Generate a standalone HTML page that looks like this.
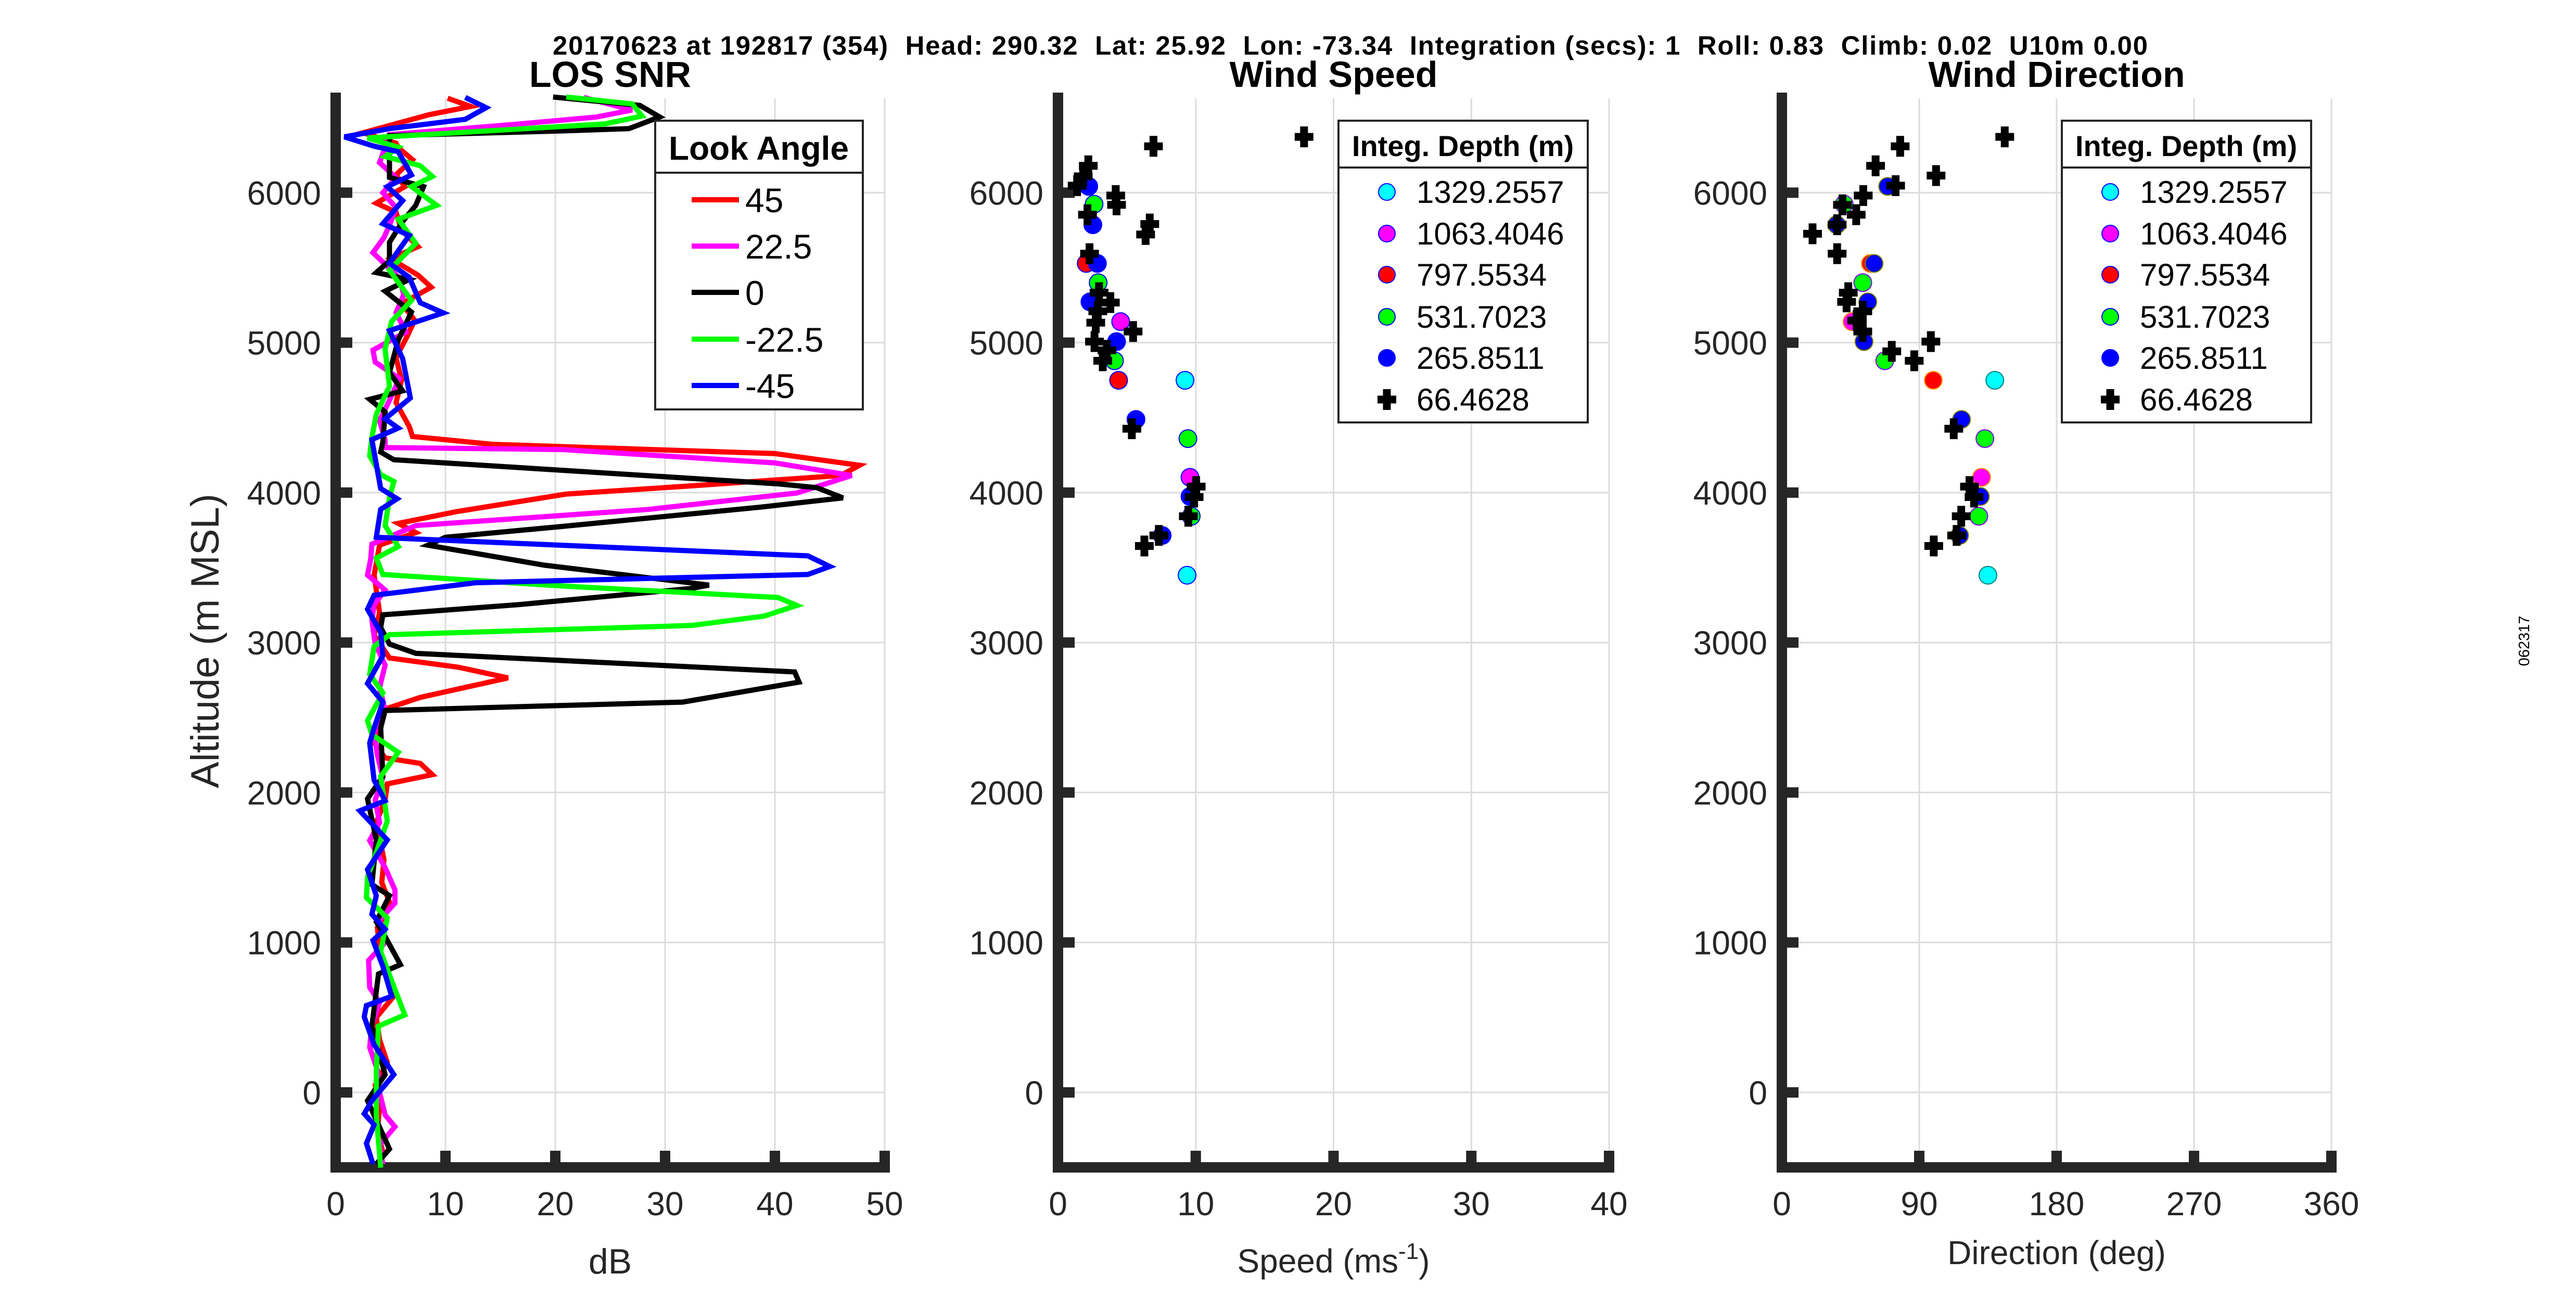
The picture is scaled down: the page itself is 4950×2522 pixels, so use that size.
<!DOCTYPE html>
<html><head><meta charset="utf-8"><style>
html,body{margin:0;padding:0;background:#fff;}
svg{display:block;font-family:"Liberation Sans",Arial,sans-serif;}
</style></head><body>
<svg id="fig" width="4950" height="2522" viewBox="0 0 4950 2522" xmlns="http://www.w3.org/2000/svg">
<rect x="0" y="0" width="4950" height="2522" fill="#fff"/>
<text x="1062" y="105" textLength="3065" lengthAdjust="spacing" font-size="51" font-weight="bold" style="white-space:pre" xml:space="preserve">20170623 at 192817 (354)  Head: 290.32  Lat: 25.92  Lon: -73.34  Integration (secs): 1  Roll: 0.83  Climb: 0.02  U10m 0.00</text>
<text transform="translate(4860,1232) rotate(-90)" text-anchor="middle" font-size="29">062317</text>
<g id="root"></g>
</svg>
<script>
// ---------- Chart data ----------
const snrTicks = [0,10,20,30,40,50];
const speedTicks = [0,10,20,30,40];
const dirTicks = [0,90,180,270,360];
const altTicks = [0,1000,2000,3000,4000,5000,6000];
const lookAngles = ['45','22.5','0','-22.5','-45'];
const depthLabels = ['1329.2557','1063.4046','797.5534','531.7023','265.8511','66.4628'];

const snr45Alt = [6630,6575,6520,6460,6400,6330,6300,6220,6120,6040,5930,5870,5750,5640,5560,5450,5370,5260,5150,5040,4900,4750,4600,4440,4374,4322,4260,4182,4114,4043,3990,3873,3795,3733,3650,3450,3200,3050,2897,2835,2764,2634,2556,2450,2330,2231,2194,2119,2057,1950,1800,1700,1550,1400,1250,1100,950,800,650,500,350,200,50,-100,-250,-400,-480];
const snr45dB = [10.2,12.3,8.5,5.5,2.5,5.5,5.7,7,5.5,6.3,3.7,5.5,6,7.5,5,7.5,8.7,6,7.2,6.5,5.5,6,5.5,6.7,7,14.3,40,47.7,46,32,21,11,5.7,7.3,4,3.5,4,3.5,4.9,11.2,15.7,7.7,4.5,4,3.5,4.5,7.7,8.8,4.7,4.5,3.7,4,4.4,4.2,5,3.8,4,4.5,5.4,3.7,4,4.7,3.6,4,3.8,4.3,4];

const snr22Alt = [6635,6551,6505,6458,6387,6300,6200,6100,6000,5900,5800,5700,5600,5530,5430,5320,5200,5070,4950,4870,4760,4600,4480,4350,4300,4287,4198,4114,3997,3888,3780,3656,3560,3450,3350,3250,3150,2990,2850,2700,2550,2400,2250,2100,1950,1800,1680,1500,1350,1262,1150,1000,880,700,600,450,300,150,0,-150,-229,-350,-480];
const snr22dB = [22.6,27,23.8,16.7,4.9,4.5,4,5.5,4.3,5.5,5,4.4,3.4,4.4,5.8,6.2,5.5,6.4,3.4,3.6,5.8,4.8,4,4.5,4.5,20.6,40,47,42,28.5,7.3,3.3,3.2,2.9,4.5,3.5,3.3,3.6,4.5,4,4.5,3.5,3.8,4.3,3.6,4,3.1,4.5,5.4,5.4,4,4.5,3,3.1,4,3.3,3.1,3.8,4,4.5,5.4,4,4.3];

const snr0Alt = [6638,6582,6505,6427,6412,6380,6195,6102,6040,5916,5808,5669,5545,5467,5421,5343,5204,5018,4801,4678,4622,4538,4337,4270,4219,4058,4033,3965,3903,3774,3702,3649,3516,3383,3361,3253,3185,3100,2990,2928,2804,2736,2603,2547,2430,2107,1958,1684,1386,1312,1138,1039,852,790,442,119,-55,-378,-477];
const snr0dB = [19.8,27.7,29.5,26.7,20.6,4.9,4.9,4.9,8,7.3,6.1,4.9,4.9,3.7,6.7,4.5,6.9,5.7,4.9,6.1,3.1,4.5,4.3,4.1,5.3,40.3,43.8,46.2,38.7,20.6,10,8.4,19,34,32.4,16.7,4.3,4.1,4.9,7.3,41.8,42.2,31.6,4.5,4.1,4.3,2.9,3.7,3.3,4.9,3.7,4.5,5.9,3.9,3.3,4.5,2.9,4.9,3.7];

const snrM22Alt = [6638,6592,6511,6458,6365,6303,6241,6180,6108,6040,5916,5823,5662,5483,5281,5142,4956,4709,4523,4368,4244,4120,4074,3965,3780,3640,3563,3454,3377,3300,3247,3176,3114,3052,2974,2788,2665,2479,2386,2268,2107,1809,1436,1299,1163,939,591,517,442,144,-154,-502];
const snrM22dB = [21,27,27.9,24.5,2.9,5.7,4.5,7.7,8.8,6.9,9.2,5.7,7.3,4.9,6.9,5.1,4.5,4.9,3.7,3.3,3.1,4.1,5.3,4.9,4.5,5.7,3.7,4.3,20.6,40.3,42,39,32.4,4.9,3.5,3.1,4.3,2.9,3.3,5.7,4.1,4.7,2.9,2.8,4.7,4.1,5.9,6.3,3.9,3.7,3.7,4.1];

const snrM45Alt = [6635,6567,6489,6427,6372,6310,6273,6118,6040,5947,5793,5715,5529,5436,5266,5198,5080,4894,4631,4492,4430,4353,4027,3959,3888,3702,3578,3507,3454,3399,3315,3222,3067,2912,2727,2603,2430,2330,2082,1945,1878,1684,1486,1312,1188,1088,1014,840,641,579,504,318,119,-55,-142,-216,-340,-477];
const snrM45dB = [11.8,13.7,11.8,4.9,0.8,3.5,5.7,6.9,4.7,6.1,4.3,6.7,4.9,6.7,7.7,9.8,4.9,6.1,6.8,4.5,5.7,3.3,4.1,5.6,4.1,3.7,43,45,43,12.8,3.5,2.9,4.1,4.3,2.9,4.3,3.5,3.1,3.5,4.5,2.2,4.7,2.9,3.7,3.3,4.5,3.4,4.3,5.1,2.8,2.6,3.5,5.3,3.3,2.6,3.5,2.8,3.4];

// Wind speed (m/s) / direction per integration depth
const cyanAlt = [4749,3449];
const cyanSpeed = [9.22,9.37];
const cyanDir = [139.5,135];
const magAlt = [5140,4102];
const magSpeed = [4.55,9.58];
const magDir = [46,130.8];
const redAlt = [5528,4749];
const redSpeed = [2.05,4.4];
const redDir = [58,99.2];
const greenAlt = [5923,5400,4879,4360,3842];
const greenSpeed = [2.62,2.92,4.1,9.43,9.67];
const greenDir = [40.8,53,67.4,133,129];
const blueAlt = [6042,5786,5528,5272,5007,4488,3974,3714];
const blueSpeed = [2.23,2.53,2.86,2.32,4.25,5.66,9.58,7.56];
const blueDir = [69.3,35.9,60.4,56.3,53.8,117.7,130,116.4];
const blackSpeedAlt = [6372,6309,6179,6109,6047,5981,5919,5853,5791,5721,5593,5333,5267,5209,5133,5074,5007,4949,4879,4426,4040,3970,3842,3714,3644];
const blackSpeed = [17.86,6.93,2.2,1.83,1.39,4.19,4.25,2.14,6.66,6.36,2.29,2.98,3.8,2.89,2.74,5.45,2.65,3.55,3.25,5.36,10.03,9.88,9.46,7.32,6.27];
const blackDirAlt = [6372,6309,6179,6114,6047,5981,5919,5853,5786,5726,5593,5333,5272,5209,5147,5074,5007,4942,4879,4426,4040,3970,3842,3714,3644];
const blackDir = [146,77.5,61.4,101,74.5,53.3,39.7,48.7,36.2,20.1,36.2,43.5,42.4,53,49,53,97.6,72,86.7,112.6,122.9,125.9,117.5,114.5,99.5];

// ---------- Rendering ----------
const NS = 'http://www.w3.org/2000/svg';
const root = document.getElementById('root');
const Y_MIN = -500, Y_MAX = 6650, Y_BOT = 2244, Y_TOP = 183;
function yS(a){ return Y_BOT - (a - Y_MIN) * (Y_BOT - Y_TOP) / (Y_MAX - Y_MIN); }
function mk(tag, attrs, parent){
  const e = document.createElementNS(NS, tag);
  for (const k in attrs) e.setAttribute(k, attrs[k]);
  (parent || root).appendChild(e);
  return e;
}
const panels = [
  {name:'snr', x0:645, x1:1700, max:50, ticks:snrTicks, title:'LOS SNR'},
  {name:'speed', x0:2033, x1:3092, max:40, ticks:speedTicks, title:'Wind Speed'},
  {name:'direction', x0:3424, x1:4480, max:360, ticks:dirTicks, title:'Wind Direction'}
];
panels.forEach(p => { p.xS = v => p.x0 + v * (p.x1 - p.x0) / p.max; });

panels.forEach(p => {
  const g = mk('g', {});
  
  
  p.ticks.forEach(t => {
    if (t === 0) return;
    const l = mk('line', {x1:p.xS(t), x2:p.xS(t), y1:Y_TOP+6, y2:Y_BOT, stroke:'#dcdcdc', 'stroke-width':3}, g);
    
    
  });
  altTicks.forEach(a => {
    const l = mk('line', {x1:p.x0, x2:p.x1, y1:yS(a), y2:yS(a), stroke:'#dcdcdc', 'stroke-width':3}, g);
    
    
  });
  const ax = mk('path', {d:`M${p.x0},${Y_TOP-5} V${Y_BOT} H${p.x1+10}`, fill:'none', stroke:'#262626', 'stroke-width':20}, g);
  
  
  p.ticks.forEach(t => {
    if (t !== 0) mk('line', {x1:p.xS(t), x2:p.xS(t), y1:Y_BOT, y2:Y_BOT-32, stroke:'#262626', 'stroke-width':20}, g);
    const tx = mk('text', {x:p.xS(t), y:2336, 'text-anchor':'middle', 'font-size':64, fill:'#262626'}, g);
    tx.textContent = t;
    
    
  });
  altTicks.forEach(a => {
    mk('line', {x1:p.x0, x2:p.x0+32, y1:yS(a), y2:yS(a), stroke:'#262626', 'stroke-width':20}, g);
    const tx = mk('text', {x:p.x0-28, y:yS(a)+23, 'text-anchor':'end', 'font-size':64, fill:'#262626'}, g);
    tx.textContent = a;
    
    
  });
  const tt = mk('text', {x:(p.x0+p.x1)/2, y:167, 'text-anchor':'middle', 'font-size':70, 'font-weight':'bold'}, g);
  tt.textContent = p.title;
  
  
});

(function(){
  const a = mk('text', {x:(panels[0].x0+panels[0].x1)/2, y:2448, 'text-anchor':'middle', 'font-size':68, fill:'#262626'});
  a.textContent = 'dB';
  
  
  const b = mk('text', {x:(panels[1].x0+panels[1].x1)/2, y:2446, 'text-anchor':'middle', 'font-size':64, fill:'#262626'});
  b.innerHTML = 'Speed (ms<tspan font-size="44" dy="-26">-1</tspan><tspan dy="26">)</tspan>';
  
  
  const c = mk('text', {x:(panels[2].x0+panels[2].x1)/2, y:2430, 'text-anchor':'middle', 'font-size':64, fill:'#262626'});
  c.textContent = 'Direction (deg)';
  
  
  const d = mk('text', {transform:'translate(420,1232) rotate(-90)', 'text-anchor':'middle', 'font-size':76, fill:'#262626'});
  d.textContent = 'Altitude (m MSL)';
  
  
})();

const snrSeries = [
  {alt:snr45Alt, v:snr45dB, c:'#ff0000'},
  {alt:snr22Alt, v:snr22dB, c:'#ff00ff'},
  {alt:snr0Alt, v:snr0dB, c:'#000000'},
  {alt:snrM22Alt, v:snrM22dB, c:'#00ff00'},
  {alt:snrM45Alt, v:snrM45dB, c:'#0000ff'}
];
snrSeries.forEach((s, i) => {
  const d = s.alt.map((a, k) => (k ? 'L' : 'M') + panels[0].xS(s.v[k]).toFixed(1) + ',' + yS(a).toFixed(1)).join(' ');
  const pth = mk('path', {d:d, fill:'none', stroke:s.c, 'stroke-width':10, 'stroke-linejoin':'miter'});
  
  
});

function plus(g, x, y){
  mk('path', {d:`M${x-18},${y} H${x+18} M${x},${y-20} V${y+20}`, stroke:'#000', 'stroke-width':15, fill:'none'}, g);
}
function scatter(panel, sets){
  sets.forEach(s => {
    const g = mk('g', {});
    
    
    s.alt.forEach((a, k) => {
      const x = panel.xS(s.v[k]), y = yS(a);
      if (s.c === 'plus') plus(g, x, y);
      else mk('circle', {cx:x, cy:y, r:17, fill:s.c, stroke:s.e, 'stroke-width':2}, g);
    });
  });
}
scatter(panels[1], [
  {alt:cyanAlt, v:cyanSpeed, c:'#00ffff', e:'#0000ff', label:'1329'},
  {alt:magAlt, v:magSpeed, c:'#ff00ff', e:'#0000ff', label:'1063'},
  {alt:redAlt, v:redSpeed, c:'#ff0000', e:'#0000ff', label:'797'},
  {alt:greenAlt, v:greenSpeed, c:'#00ff00', e:'#0000ff', label:'531'},
  {alt:blueAlt, v:blueSpeed, c:'#0000ff', e:'#0000ff', label:'265'},
  {alt:blackSpeedAlt, v:blackSpeed, c:'plus', label:'66'}
]);
scatter(panels[2], [
  {alt:cyanAlt, v:cyanDir, c:'#00ffff', e:'#008080', label:'1329'},
  {alt:magAlt, v:magDir, c:'#ff00ff', e:'#ff8000', label:'1063'},
  {alt:redAlt, v:redDir, c:'#ff0000', e:'#ffa000', label:'797'},
  {alt:greenAlt, v:greenDir, c:'#00ff00', e:'#8000ff', label:'531'},
  {alt:blueAlt, v:blueDir, c:'#0000ff', e:'#808000', label:'265'},
  {alt:blackDirAlt, v:blackDir, c:'plus', label:'66'}
]);

(function(){
  const g = mk('g', {});
  
  
  mk('rect', {x:1259, y:232, width:399, height:555, fill:'#fff', stroke:'#262626', 'stroke-width':4}, g);
  mk('line', {x1:1259, x2:1658, y1:332, y2:332, stroke:'#262626', 'stroke-width':4}, g);
  const t = mk('text', {x:1458, y:307, 'text-anchor':'middle', 'font-size':64, 'font-weight':'bold'}, g);
  t.textContent = 'Look Angle';
  const ys = [384,473,562,652,741];
  snrSeries.forEach((s, i) => {
    mk('line', {x1:1329, x2:1420, y1:ys[i], y2:ys[i], stroke:s.c, 'stroke-width':10}, g);
    const tx = mk('text', {x:1432, y:ys[i]+24, 'font-size':66}, g);
    tx.textContent = lookAngles[i];
    
    
  });
})();
function depthLegend(name, bx, mx, tx){
  const g = mk('g', {});
  
  
  mk('rect', {x:bx, y:232, width:479, height:580, fill:'#fff', stroke:'#262626', 'stroke-width':4}, g);
  mk('line', {x1:bx, x2:bx+479, y1:322, y2:322, stroke:'#262626', 'stroke-width':4}, g);
  const t = mk('text', {x:bx+239, y:300, 'text-anchor':'middle', 'font-size':56, 'font-weight':'bold'}, g);
  t.textContent = 'Integ. Depth (m)';
  const ys = [369,449,528,609,688,768];
  const cols = ['#00ffff','#ff00ff','#ff0000','#00ff00','#0000ff','plus'];
  cols.forEach((c, i) => {
    if (c === 'plus') plus(g, mx, ys[i]);
    else mk('circle', {cx:mx, cy:ys[i], r:16, fill:c, stroke:'#0000ff', 'stroke-width':2}, g);
    const e = mk('text', {x:tx, y:ys[i]+21, 'font-size':60}, g);
    e.textContent = depthLabels[i];
    
    
  });
}
depthLegend('speed-legend', 2572, 2665, 2722);
depthLegend('direction-legend', 3962, 4055, 4112);
</script>
</body></html>
